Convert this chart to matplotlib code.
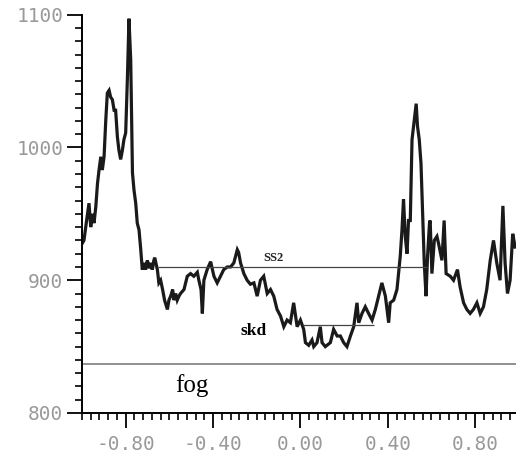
import matplotlib.pyplot as plt
from matplotlib.ticker import MultipleLocator, FormatStrFormatter

# trace
x = [-0.998, -0.991, -0.983, -0.968, -0.960, -0.952, -0.945, -0.937, -0.929, -0.922,
     -0.914, -0.907, -0.899, -0.891, -0.884, -0.876, -0.869, -0.861, -0.853, -0.846,
     -0.838, -0.831, -0.823, -0.815, -0.808, -0.800, -0.792, -0.785, -0.777, -0.769,
     -0.762, -0.754, -0.747, -0.739, -0.731, -0.724, -0.716, -0.709, -0.701, -0.693,
     -0.686, -0.678, -0.671, -0.667, -0.655, -0.648, -0.640, -0.631, -0.622, -0.609,
     -0.602, -0.594, -0.585, -0.579, -0.571, -0.564, -0.556, -0.549, -0.533, -0.518,
     -0.503, -0.488, -0.472, -0.465, -0.455, -0.449, -0.442, -0.427, -0.411, -0.396,
     -0.381, -0.366, -0.351, -0.335, -0.320, -0.305, -0.289, -0.283, -0.274, -0.259,
     -0.244, -0.229, -0.213, -0.198, -0.183, -0.168, -0.152, -0.137, -0.122, -0.107,
     -0.091, -0.076, -0.061, -0.046, -0.031, -0.015, 0.000, 0.015, 0.023, 0.038,
     0.053, 0.061, 0.076, 0.091, 0.099, 0.114, 0.137, 0.152, 0.168, 0.183,
     0.198, 0.213, 0.229, 0.244, 0.259, 0.267, 0.282, 0.297, 0.312, 0.328,
     0.343, 0.358, 0.373, 0.389, 0.404, 0.411, 0.427, 0.442, 0.449, 0.457,
     0.465, 0.472, 0.480, 0.488, 0.495, 0.503, 0.511, 0.518, 0.530, 0.536,
     0.544, 0.552, 0.561, 0.567, 0.575, 0.582, 0.591, 0.594, 0.602, 0.613,
     0.625, 0.632, 0.648, 0.658, 0.667, 0.686, 0.701, 0.719, 0.731, 0.747,
     0.762, 0.777, 0.792, 0.808, 0.823, 0.838, 0.853, 0.869, 0.884, 0.899,
     0.914, 0.927, 0.937, 0.948, 0.960, 0.972, 0.983]
y = [928, 930, 940, 958, 940, 950, 943, 955, 973, 983,
     993, 983, 993, 1021, 1041, 1043, 1038, 1036, 1028, 1028,
     1008, 998, 991, 998, 1006, 1011, 1053, 1097, 1066, 981,
     968, 958, 943, 938, 923, 908, 913, 908, 915, 909,
     913, 908, 915, 917, 908, 898, 900, 893, 885, 878,
     885, 888, 893, 885, 890, 885, 888, 890, 893, 903,
     905, 903, 906, 900, 893, 875, 900, 908, 914, 903,
     898, 903, 908, 910, 910, 913, 923, 921, 913, 905,
     900, 897, 898, 888, 900, 903, 890, 893, 888, 878,
     873, 865, 870, 868, 883, 865, 870, 863, 853, 851,
     855, 850, 853, 865, 853, 850, 853, 863, 858, 858,
     853, 850, 858, 865, 883, 868, 875, 880, 875, 870,
     878, 888, 898, 888, 868, 883, 885, 893, 905, 918,
     938, 961, 933, 920, 945, 945, 1006, 1016, 1033, 1016,
     1006, 988, 943, 913, 888, 918, 943, 945, 905, 930,
     933, 928, 915, 945, 905, 903, 900, 908, 895, 883,
     878, 875, 878, 883, 875, 880, 893, 915, 930, 913,
     900, 956, 913, 890, 900, 935, 925]

# reference levels
ss2_level, ss2_span = 910, (-0.654, 0.58)
skd_level, skd_span = 866, (0.014, 0.338)
fog_level = 837

fig = plt.figure(figsize=(5.16, 4.55), dpi=100)
ax = fig.add_axes([82 / 516, 42 / 455, 434 / 516, 398.3 / 455])

ax.plot(x, y, color='#1a1a1a', lw=2.3, solid_joinstyle='miter')
ax.hlines(ss2_level, *ss2_span, color='#444444', lw=0.9)
ax.hlines(skd_level, *skd_span, color='#444444', lw=0.9)
ax.axhline(fog_level, color='#888888', lw=1.3)

ax.text(-0.123, 916.5, 'SS2', family='Liberation Serif', weight='bold',
        fontsize=9, ha='center', va='center', color='#222222')
ax.text(-0.214, 862, 'skd', family='Liberation Serif', weight='bold',
        fontsize=12.5, ha='center', va='center')
ax.text(-0.498, 821, 'fog', family='Liberation Serif',
        fontsize=18, ha='center', va='center')

ax.set_xlim(-1.0, 0.987)
ax.set_ylim(800, 1100)
ax.xaxis.set_major_locator(MultipleLocator(0.4))
ax.xaxis.set_minor_locator(MultipleLocator(0.04))
ax.yaxis.set_major_locator(MultipleLocator(100))
ax.yaxis.set_minor_locator(MultipleLocator(10))
ax.xaxis.set_major_formatter(FormatStrFormatter('%.2f'))

for s in ['top', 'right']:
    ax.spines[s].set_visible(False)
for s in ['left', 'bottom']:
    ax.spines[s].set_linewidth(1.4)

ax.tick_params(which='major', length=10.5, width=1.3, direction='out',
               labelcolor='#999999', labelsize=14)
ax.tick_params(which='minor', length=5, width=1.2, direction='out')
ax.tick_params(axis='y', pad=3)
ax.tick_params(axis='x', pad=5)
for lab in ax.get_xticklabels() + ax.get_yticklabels():
    lab.set_family('DejaVu Sans Mono')

fig.savefig('out.png', dpi=100)
